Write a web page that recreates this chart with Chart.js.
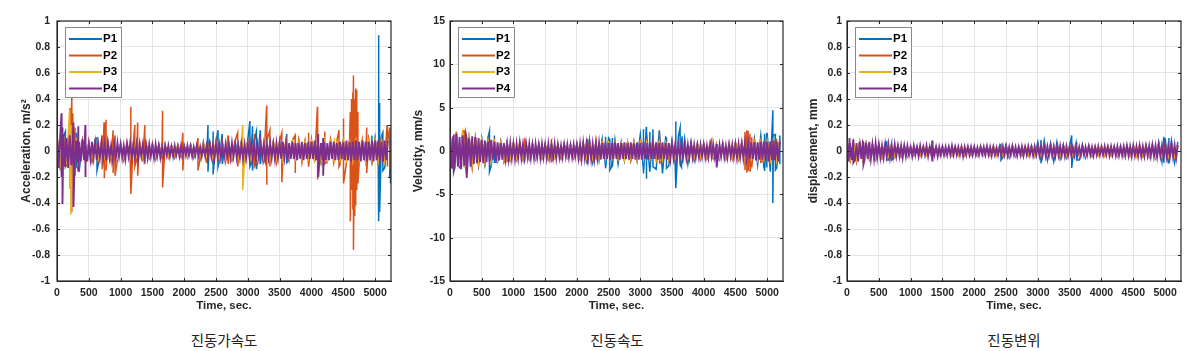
<!DOCTYPE html>
<html>
<head>
<meta charset="utf-8">
<title>진동 측정</title>
<script src="https://cdn.jsdelivr.net/npm/chart.js@4.4.1/dist/chart.umd.min.js"></script>
<style>
  html, body { margin: 0; padding: 0; background: #fff; }
  body { position: relative; width: 1200px; height: 351px; overflow: hidden; }
  canvas { position: absolute; top: 0; }
  .caption {
    position: absolute; top: 330px; width: 200px; text-align: center;
    font-family: "Noto Sans CJK KR", sans-serif; font-size: 14.5px; line-height: 20px; color: #222;
  }
</style>
</head>
<body>
<canvas id="acc" width="400" height="317" style="left:0"></canvas>
<canvas id="vel" width="400" height="317" style="left:400px"></canvas>
<canvas id="disp" width="400" height="317" style="left:800px"></canvas>
<div class="caption" style="left:124px">진동가속도</div>
<div class="caption" style="left:517px">진동속도</div>
<div class="caption" style="left:914px">진동변위</div>
<script>
const names = ["P1", "P2", "P3", "P4"];
const colors = ["#0072BD", "#D95319", "#EDB120", "#7E2F8E"];
// sampling interval (sec) of each band array below
const bandStep = [50, 50, 50, 25];
const timeMax = 5250;

const timeTicks = [0, 500, 1000, 1500, 2000, 2500, 3000, 3500, 4000, 4500, 5000];
const unitTicks = [-1, -0.8, -0.6, -0.4, -0.2, 0, 0.2, 0.4, 0.6, 0.8, 1];
const velTicks = [-15, -10, -5, 0, 5, 10, 15];

// ---- acceleration, m/s^2 ----
const accP1 = [
  0.10,-0.12,0.11,-0.10,0.12,-0.11,0.13,-0.15,0.08,-0.07,0.06,-0.07,0.09,-0.10,0.06,-0.06,0.05,-0.06,0.06,-0.05,
  0.05,-0.06,0.05,-0.05,0.06,-0.05,0.05,-0.06,0.05,-0.05,0.04,-0.05,0.05,-0.04,0.04,-0.04,0.04,-0.05,0.04,-0.04,
  0.04,-0.04,0.05,-0.05,0.05,-0.06,0.07,-0.09,0.08,-0.10,0.07,-0.08,0.06,-0.07,0.06,-0.06,0.07,-0.06,0.08,-0.09,
  0.09,-0.10,0.08,-0.09,0.07,-0.08,0.06,-0.07,0.07,-0.08,0.07,-0.06,0.06,-0.07,0.07,-0.07,0.06,-0.07,0.07,-0.06,
  0.07,-0.07,0.06,-0.08,0.07,-0.07,0.08,-0.07,0.07,-0.08,0.08,-0.07,0.07,-0.08,0.08,-0.08,0.07,-0.08,0.09,-0.10,
  0.10,-0.12,0.11,-0.13,0.10
];
const accP2 = [
  0.12,-0.14,0.13,-0.12,0.15,-0.10,0.09,-0.10,0.08,-0.09,0.07,-0.08,0.07,-0.07,0.08,-0.06,0.07,-0.08,0.06,-0.07,
  0.06,-0.07,0.07,-0.06,0.06,-0.07,0.07,-0.06,0.06,-0.05,0.06,-0.06,0.05,-0.05,0.04,-0.05,0.04,-0.04,0.05,-0.04,
  0.04,-0.05,0.05,-0.04,0.05,-0.06,0.06,-0.07,0.07,-0.06,0.08,-0.07,0.07,-0.08,0.07,-0.07,0.08,-0.07,0.07,-0.08,
  0.08,-0.07,0.09,-0.08,0.08,-0.09,0.08,-0.08,0.07,-0.09,0.08,-0.08,0.09,-0.07,0.08,-0.08,0.09,-0.09,0.08,-0.08,
  0.09,-0.08,0.08,-0.09,0.10,-0.08,0.09,-0.09,0.08,-0.10,0.09,-0.09,0.10,-0.08,0.08,-0.09,0.09,-0.08,0.08,-0.09,
  0.09,-0.08,0.10,-0.09,0.08
];
const accP3 = [
  0.10,-0.11,0.09,-0.10,0.12,-0.09,0.08,-0.07,0.06,-0.07,0.06,-0.05,0.05,-0.06,0.05,-0.05,0.06,-0.05,0.05,-0.05,
  0.05,-0.05,0.04,-0.05,0.05,-0.04,0.04,-0.05,0.04,-0.04,0.04,-0.04,0.04,-0.03,0.03,-0.04,0.03,-0.03,0.04,-0.03,
  0.03,-0.04,0.04,-0.03,0.04,-0.04,0.05,-0.04,0.05,-0.05,0.06,-0.05,0.05,-0.06,0.06,-0.05,0.05,-0.06,0.06,-0.05,
  0.06,-0.06,0.05,-0.06,0.06,-0.05,0.06,-0.06,0.07,-0.06,0.06,-0.07,0.06,-0.06,0.07,-0.06,0.06,-0.07,0.07,-0.06,
  0.07,-0.07,0.06,-0.07,0.08,-0.07,0.07,-0.08,0.07,-0.07,0.08,-0.07,0.07,-0.08,0.08,-0.07,0.07,-0.08,0.08,-0.07,
  0.08,-0.08,0.07,-0.08,0.08
];
const accP4 = [
  0.12,-0.13,0.11,-0.14,0.13,-0.12,0.10,-0.13,0.12,-0.11,0.09,-0.12,0.08,-0.09,0.07,-0.08,0.09,-0.07,0.06,-0.08,
  0.05,-0.06,0.07,-0.05,0.06,-0.07,0.05,-0.05,0.06,-0.06,0.05,-0.07,0.06,-0.05,0.04,-0.06,0.05,-0.05,0.06,-0.04,
  0.05,-0.05,0.04,-0.06,0.05,-0.04,0.06,-0.05,0.04,-0.05,0.05,-0.06,0.04,-0.04,0.05,-0.05,0.04,-0.05,0.05,-0.04,
  0.04,-0.05,0.05,-0.04,0.04,-0.05,0.03,-0.04,0.04,-0.03,0.04,-0.04,0.03,-0.04,0.04,-0.03,0.03,-0.04,0.04,-0.03,
  0.03,-0.03,0.04,-0.03,0.03,-0.04,0.03,-0.03,0.04,-0.03,0.03,-0.04,0.03,-0.03,0.04,-0.04,0.05,-0.04,0.04,-0.05,
  0.05,-0.04,0.05,-0.05,0.04,-0.05,0.05,-0.04,0.05,-0.05,0.06,-0.04,0.05,-0.05,0.04,-0.05,0.05,-0.06,0.05,-0.05,
  0.05,-0.05,0.06,-0.05,0.05,-0.06,0.05,-0.05,0.06,-0.05,0.05,-0.06,0.05,-0.05,0.06,-0.05,0.05,-0.06,0.06,-0.05,
  0.06,-0.06,0.07,-0.05,0.06,-0.07,0.06,-0.06,0.07,-0.06,0.06,-0.07,0.06,-0.06,0.07,-0.07,0.06,-0.06,0.07,-0.06,
  0.07,-0.06,0.08,-0.07,0.07,-0.07,0.06,-0.07,0.07,-0.07,0.06,-0.07,0.07,-0.06,0.07,-0.07,0.06,-0.07,0.07,-0.06,
  0.07,-0.07,0.08,-0.07,0.07,-0.08,0.07,-0.07,0.08,-0.07,0.07,-0.08,0.08,-0.07,0.07,-0.08,0.07,-0.07,0.08,-0.08,
  0.08,-0.07,0.08,-0.08,0.07,-0.08,0.08,-0.07,0.08
];
// isolated peaks: [time, top, bottom]
const accP1Spikes = [
  [132,0.15,-0.12],[304,0.14,-0.12],[629,0.10,-0.15],[2373,0.20,-0.16],[2454,0.15,-0.18],[2531,0.16,-0.12],
  [2596,0.13,-0.10],[3032,0.23,-0.12],[3073,0.19,-0.15],[3134,0.15,-0.14],[3195,0.16,-0.10],[3611,0.13,-0.09],
  [4950,0.12,-0.10],[5056,0.89,-0.54],[5071,0.37,-0.47],[5122,0.14,-0.15],[5230,0.15,-0.20],[5243,0.10,-0.25]
];
const accP2Spikes = [
  [203,0.33,-0.10],[233,0.42,-0.47],[248,0.29,-0.23],[284,0.18,-0.19],[710,0.12,-0.14],[740,0.22,-0.21],
  [771,0.24,-0.15],[882,0.16,-0.17],[913,0.12,-0.19],[1161,0.34,-0.33],[1223,0.20,-0.12],[1268,0.22,-0.19],
  [1381,0.20,-0.10],[1659,0.31,-0.28],[1978,0.14,-0.15],[2216,0.10,-0.15],[2688,0.12,-0.10],[2840,0.14,-0.12],
  [3103,0.13,-0.12],[3296,0.35,-0.26],[3347,0.16,-0.12],[3534,0.14,-0.24],[3742,0.12,-0.17],[3955,0.14,-0.12],
  [4094,0.34,-0.22],[4209,0.15,-0.10],[4432,0.16,-0.12],[4504,0.25,-0.25],[4610,0.30,-0.54],[4630,0.40,-0.30],
  [4650,0.45,-0.45],[4660,0.58,-0.76],[4680,0.40,-0.50],[4695,0.48,-0.42],[4712,0.47,-0.30],[4730,0.30,-0.25],
  [4868,0.18,-0.17],[5188,0.20,-0.12],[5233,0.18,-0.14]
];
const accP3Spikes = [[198,0.32,-0.29],[218,0.20,-0.49],[2919,0.20,-0.30],[4361,0.10,-0.09]];
const accP4Spikes = [
  [71,0.29,-0.20],[86,0.18,-0.41],[259,0.22,-0.43],[335,0.19,-0.16],[446,0.20,-0.20],[4107,0.13,-0.20],[4184,0.10,-0.19]
];

// ---- velocity, mm/s ----
const velP1 = [
  1.9,-2.1,1.8,-2.0,1.7,-1.9,1.6,-1.7,1.5,-1.6,1.4,-1.5,1.6,-1.7,1.2,-1.3,1.1,-1.1,1.0,-1.0,
  0.9,-0.9,0.8,-0.9,0.8,-0.8,0.8,-0.9,0.8,-0.8,0.7,-0.8,0.8,-0.7,0.7,-0.8,0.8,-0.7,0.7,-0.7,
  0.8,-0.8,0.9,-1.0,1.2,-1.3,1.0,-1.1,1.4,-1.6,1.5,-1.8,1.3,-1.5,1.0,-1.1,1.0,-1.0,1.1,-1.1,
  1.9,-2.2,2.2,-2.4,1.9,-2.1,2.4,-2.6,1.6,-1.7,1.2,-1.5,1.7,-1.9,1.4,-1.5,1.0,-1.1,0.9,-0.9,
  0.8,-0.8,0.7,-0.8,0.8,-0.7,0.8,-0.8,0.7,-0.8,0.9,-0.9,1.0,-1.0,1.2,-1.2,1.4,-1.6,1.8,-2.0,
  2.0,-2.4,1.8,-2.0,1.5
];
const velP2 = [
  2.0,-1.9,2.2,-1.8,2.3,-2.0,1.7,-1.9,1.5,-1.6,1.3,-1.4,1.2,-1.3,1.1,-1.1,1.0,-1.2,0.9,-1.0,
  0.9,-0.9,1.0,-0.9,0.8,-0.9,0.9,-0.8,0.8,-0.8,0.8,-0.9,0.8,-0.8,0.7,-0.8,0.8,-0.7,0.8,-0.8,
  0.8,-0.9,0.9,-0.9,1.0,-0.9,0.9,-1.0,1.0,-1.0,0.9,-1.0,1.0,-0.9,1.0,-1.0,1.0,-1.1,1.0,-1.0,
  1.1,-1.0,1.0,-1.1,1.1,-1.0,1.2,-1.1,1.0,-1.0,0.9,-1.0,0.9,-0.9,0.9,-0.9,0.8,-0.9,0.8,-0.8,
  0.8,-0.8,0.9,-0.8,0.8,-0.9,0.9,-0.9,0.9,-0.9,1.0,-0.9,1.0,-1.0,1.1,-1.0,1.1,-1.2,1.1,-1.1,
  1.2,-1.1,1.2,-1.2,1.1
];
const velP3 = [
  1.8,-1.9,1.9,-1.7,2.0,-1.8,1.5,-1.6,1.3,-1.4,1.2,-1.2,1.1,-1.2,1.0,-1.0,0.9,-1.0,0.8,-0.9,
  0.8,-0.8,0.7,-0.8,0.8,-0.7,0.7,-0.8,0.7,-0.7,0.7,-0.7,0.6,-0.7,0.7,-0.6,0.6,-0.7,0.7,-0.6,
  0.7,-0.8,0.8,-0.8,0.9,-0.8,0.8,-0.9,0.9,-0.9,0.9,-0.9,0.9,-0.9,0.9,-1.0,1.0,-0.9,1.0,-1.0,
  1.0,-1.0,1.0,-0.9,1.0,-1.0,1.0,-0.9,0.9,-0.9,0.8,-0.8,0.8,-0.8,0.7,-0.8,0.7,-0.7,0.7,-0.7,
  0.7,-0.7,0.7,-0.7,0.7,-0.7,0.7,-0.7,0.8,-0.7,0.8,-0.8,0.9,-0.9,1.0,-0.9,1.0,-1.0,1.1,-1.0,
  1.1,-1.1,1.2,-1.1,1.1
];
const velP4 = [
  1.9,-2.0,1.7,-1.9,2.0,-1.8,1.6,-2.1,1.8,-1.7,1.9,-1.6,1.5,-1.8,1.7,-1.5,1.6,-1.4,1.5,-1.3,
  1.3,-1.4,1.2,-1.3,1.1,-1.2,1.3,-1.0,1.1,-1.2,1.0,-1.1,0.9,-1.0,0.9,-0.9,0.8,-0.9,0.9,-0.8,
  0.8,-0.9,0.8,-0.8,0.9,-0.8,0.7,-0.8,0.8,-0.7,0.8,-0.8,0.7,-0.8,0.8,-0.7,0.7,-0.8,0.8,-0.7,
  0.7,-0.8,0.8,-0.7,0.7,-0.7,0.8,-0.8,0.7,-0.7,0.6,-0.7,0.7,-0.6,0.7,-0.7,0.6,-0.7,0.7,-0.6,
  0.7,-0.8,0.8,-0.9,0.9,-0.8,0.8,-0.9,0.9,-0.9,0.8,-0.9,0.9,-0.8,0.9,-1.0,0.9,-0.9,1.0,-0.9,
  0.9,-1.0,0.9,-0.9,1.0,-0.9,0.9,-1.0,0.9,-0.9,1.0,-0.9,0.9,-1.0,1.0,-0.9,0.9,-1.0,1.0,-1.0,
  0.9,-1.0,1.0,-0.9,0.9,-1.0,1.0,-0.9,0.9,-0.9,1.0,-1.0,0.9,-0.9,1.0,-0.9,0.9,-1.0,0.9,-0.9,
  0.8,-0.8,0.7,-0.8,0.7,-0.7,0.8,-0.7,0.7,-0.8,0.7,-0.7,0.8,-0.7,0.7,-0.7,0.6,-0.7,0.7,-0.6,
  0.7,-0.7,0.6,-0.7,0.7,-0.6,0.7,-0.7,0.6,-0.7,0.7,-0.6,0.7,-0.7,0.6,-0.7,0.7,-0.6,0.7,-0.7,
  0.7,-0.8,0.8,-0.7,0.8,-0.8,0.9,-0.8,0.9,-0.9,1.0,-0.9,1.0,-1.1,1.0,-1.0,1.1,-1.0,1.1,-1.1,
  1.1,-1.2,1.1,-1.0,1.2,-1.1,1.1,-1.2,1.1
];
const velP1Spikes = [
  [622,2.3,-2.4],[700,1.8,-1.3],[2168,1.4,-1.5],[2453,1.65,-2.0],[2520,1.3,-2.2],[2560,1.5,-1.8],
  [3050,2.5,-2.6],[3096,2.8,-3.2],[3150,2.2,-2.4],[3200,2.5,-1.8],[3413,1.5,-2.0],[3560,3.4,-4.3],
  [3628,2.7,-1.6],[3660,1.7,-1.4],[4960,2.0,-2.3],[4995,2.1,-1.9],[5090,4.7,-6.0],[5130,1.9,-2.2],[5200,1.8,-1.5]
];
const velP2Spikes = [
  [225,2.3,-1.6],[900,1.0,-1.2],[1176,1.5,-1.3],[1600,1.3,-1.2],[2300,1.2,-0.9],[3305,2.0,-1.4],
  [4125,1.3,-0.8],[4650,2.2,-2.2],[4680,2.4,-2.5],[4700,2.3,-2.3],[4730,2.0,-2.4],[4757,1.6,-1.9],
  [4900,1.1,-1.3],[5150,1.4,-1.3]
];
const velP3Spikes = [[215,1.2,-1.8]];
const velP4Spikes = [[60,1.9,-2.3],[263,1.4,-3.1],[4204,0.8,-1.9]];

// ---- displacement, mm ----
const dispP1 = [
  0.07,-0.07,0.06,-0.08,0.07,-0.07,0.06,-0.06,0.05,-0.06,0.05,-0.05,0.06,-0.07,0.05,-0.05,0.04,-0.04,0.04,-0.04,
  0.03,-0.03,0.03,-0.03,0.03,-0.03,0.03,-0.03,0.03,-0.03,0.03,-0.03,0.03,-0.03,0.03,-0.03,0.03,-0.03,0.03,-0.03,
  0.03,-0.03,0.03,-0.03,0.03,-0.03,0.03,-0.03,0.04,-0.05,0.05,-0.05,0.04,-0.04,0.03,-0.03,0.03,-0.03,0.04,-0.04,
  0.07,-0.08,0.08,-0.07,0.06,-0.08,0.07,-0.06,0.05,-0.05,0.04,-0.05,0.06,-0.07,0.05,-0.05,0.04,-0.04,0.03,-0.03,
  0.03,-0.03,0.03,-0.03,0.03,-0.03,0.03,-0.03,0.03,-0.03,0.03,-0.03,0.04,-0.04,0.04,-0.04,0.05,-0.05,0.07,-0.08,
  0.10,-0.09,0.08,-0.09,0.07
];
const dispP2 = [
  0.08,-0.07,0.07,-0.08,0.07,-0.07,0.06,-0.06,0.05,-0.05,0.05,-0.05,0.04,-0.04,0.04,-0.04,0.04,-0.04,0.04,-0.04,
  0.035,-0.03,0.03,-0.035,0.035,-0.03,0.03,-0.035,0.03,-0.03,0.035,-0.03,0.03,-0.035,0.035,-0.03,0.03,-0.035,0.03,-0.03,
  0.03,-0.035,0.035,-0.03,0.03,-0.035,0.035,-0.035,0.03,-0.035,0.035,-0.03,0.035,-0.035,0.03,-0.035,0.035,-0.035,0.035,-0.03,
  0.04,-0.035,0.035,-0.04,0.04,-0.035,0.035,-0.04,0.04,-0.035,0.035,-0.035,0.04,-0.035,0.035,-0.04,0.035,-0.035,0.035,-0.035,
  0.035,-0.035,0.04,-0.035,0.035,-0.04,0.04,-0.04,0.04,-0.035,0.04,-0.04,0.045,-0.04,0.04,-0.045,0.045,-0.05,0.045,-0.045,
  0.05,-0.045,0.045,-0.05,0.05
];
const dispP3 = [
  0.07,-0.07,0.06,-0.07,0.07,-0.06,0.05,-0.06,0.05,-0.05,0.04,-0.05,0.04,-0.04,0.04,-0.04,0.035,-0.04,0.035,-0.035,
  0.03,-0.03,0.03,-0.03,0.03,-0.03,0.03,-0.03,0.03,-0.03,0.03,-0.03,0.03,-0.03,0.03,-0.03,0.03,-0.03,0.03,-0.03,
  0.03,-0.03,0.03,-0.035,0.03,-0.03,0.035,-0.03,0.03,-0.03,0.03,-0.035,0.03,-0.03,0.035,-0.03,0.03,-0.03,0.03,-0.035,
  0.035,-0.035,0.035,-0.03,0.035,-0.035,0.035,-0.035,0.03,-0.035,0.035,-0.03,0.035,-0.035,0.03,-0.035,0.035,-0.03,0.035,-0.035,
  0.035,-0.035,0.035,-0.035,0.035,-0.035,0.04,-0.035,0.035,-0.04,0.04,-0.04,0.04,-0.04,0.045,-0.04,0.04,-0.045,0.045,-0.04,
  0.045,-0.045,0.04,-0.045,0.045
];
const dispP4 = [
  0.07,-0.08,0.06,-0.07,0.08,-0.07,0.06,-0.08,0.07,-0.06,0.07,-0.07,0.06,-0.06,0.07,-0.06,0.05,-0.06,0.06,-0.05,
  0.05,-0.05,0.04,-0.05,0.05,-0.04,0.05,-0.05,0.04,-0.04,0.05,-0.04,0.04,-0.04,0.04,-0.05,0.04,-0.04,0.04,-0.03,
  0.03,-0.04,0.04,-0.03,0.03,-0.04,0.04,-0.03,0.03,-0.03,0.04,-0.04,0.03,-0.03,0.04,-0.03,0.03,-0.04,0.03,-0.03,
  0.03,-0.03,0.03,-0.03,0.03,-0.03,0.04,-0.03,0.03,-0.03,0.03,-0.03,0.03,-0.04,0.03,-0.03,0.03,-0.03,0.03,-0.03,
  0.03,-0.03,0.025,-0.03,0.03,-0.025,0.03,-0.03,0.035,-0.03,0.03,-0.035,0.03,-0.03,0.025,-0.03,0.03,-0.03,0.035,-0.03,
  0.03,-0.035,0.03,-0.03,0.035,-0.03,0.03,-0.035,0.03,-0.03,0.035,-0.035,0.03,-0.03,0.035,-0.03,0.03,-0.035,0.035,-0.03,
  0.035,-0.035,0.04,-0.035,0.035,-0.04,0.035,-0.035,0.04,-0.035,0.035,-0.04,0.035,-0.035,0.04,-0.035,0.035,-0.04,0.035,-0.035,
  0.035,-0.035,0.03,-0.035,0.035,-0.03,0.03,-0.035,0.035,-0.03,0.03,-0.03,0.035,-0.03,0.03,-0.035,0.03,-0.03,0.035,-0.03,
  0.03,-0.03,0.035,-0.03,0.03,-0.035,0.035,-0.03,0.03,-0.035,0.035,-0.035,0.03,-0.035,0.035,-0.035,0.04,-0.035,0.035,-0.04,
  0.04,-0.035,0.035,-0.04,0.04,-0.04,0.035,-0.04,0.04,-0.035,0.04,-0.04,0.045,-0.04,0.04,-0.045,0.045,-0.04,0.04,-0.045,
  0.045,-0.045,0.04,-0.045,0.05,-0.045,0.045,-0.05,0.045
];
const dispP1Spikes = [
  [622,0.07,-0.07],[700,0.06,-0.07],[2420,0.05,-0.07],[3050,0.085,-0.095],[3532,0.12,-0.13],
  [3610,0.07,-0.07],[4980,0.11,-0.09],[5060,0.10,-0.09]
];
const dispP2Spikes = [];
const dispP3Spikes = [];
const dispP4Spikes = [[40,0.10,-0.05],[100,0.09,-0.09],[260,0.06,-0.10],[1340,0.08,-0.08]];

const axisColor = "#262626";
const gridColor = "#e4e4e4";
const fontFamily = "'Liberation Sans', Arial, sans-serif";

function buildSeries(band, step, spikes) {
  const pts = band.map((v, i) => ({ x: i * step, y: v }));
  spikes.forEach(([t, hi, lo]) => pts.push({ x: t, y: hi }, { x: t, y: lo }));
  return pts.sort((a, b) => a.x - b.x);
}

// box, inward tick marks and legend like the MATLAB figure
const matlabFrame = {
  id: "matlabFrame",
  afterDraw(chart) {
    const { ctx, chartArea: a, scales: { x, y } } = chart;
    ctx.save();
    ctx.strokeStyle = axisColor;
    ctx.lineWidth = 1;
    ctx.beginPath();
    x.ticks.forEach((t) => {
      const px = Math.round(x.getPixelForValue(t.value)) + 0.5;
      ctx.moveTo(px, a.top); ctx.lineTo(px, a.top + 3);
      ctx.moveTo(px, a.bottom); ctx.lineTo(px, a.bottom - 3);
    });
    y.ticks.forEach((t) => {
      const py = Math.round(y.getPixelForValue(t.value)) + 0.5;
      ctx.moveTo(a.left, py); ctx.lineTo(a.left + 3, py);
      ctx.moveTo(a.right, py); ctx.lineTo(a.right - 3, py);
    });
    ctx.stroke();
    ctx.lineWidth = 1.2;
    ctx.strokeRect(a.left, a.top, a.right - a.left, a.bottom - a.top);

    const bx = Math.round(a.left) + 8, by = Math.round(a.top) + 6;
    ctx.fillStyle = "#fff";
    ctx.fillRect(bx, by, 56, 70);
    ctx.strokeStyle = "#8a8a8a";
    ctx.lineWidth = 1;
    ctx.strokeRect(bx + 0.5, by + 0.5, 56, 70);
    ctx.font = "bold 11.5px " + fontFamily;
    ctx.textBaseline = "middle";
    chart.data.datasets.forEach((ds, i) => {
      const ly = by + 12 + i * 16.5;
      ctx.strokeStyle = ds.borderColor;
      ctx.lineWidth = 2;
      ctx.beginPath();
      ctx.moveTo(bx + 4, ly);
      ctx.lineTo(bx + 37, ly);
      ctx.stroke();
      ctx.fillStyle = "#000";
      ctx.fillText(ds.label, bx + 38, ly);
    });
    ctx.restore();
  },
};

function makeChart(id, cfg) {
  return new Chart(document.getElementById(id), {
    type: "line",
    data: {
      datasets: names.map((n, i) => ({
        label: n,
        data: buildSeries(cfg.bands[i], bandStep[i], cfg.spikes[i]),
        borderColor: colors[i],
        borderWidth: i === 3 ? 1.9 : 1.5,
        pointRadius: 0,
        tension: 0,
        order: 3 - i,
      })),
    },
    options: {
      responsive: false,
      animation: false,
      events: [],
      layout: { padding: { top: 21, right: cfg.padRight, bottom: 0, left: 0 } },
      plugins: { legend: { display: false }, tooltip: { enabled: false } },
      scales: {
        x: {
          type: "linear",
          min: 0,
          max: timeMax,
          afterBuildTicks: (s) => { s.ticks = timeTicks.map((v) => ({ value: v })); },
          afterFit: (s) => { s.height = 36; },
          grid: { color: gridColor, drawTicks: false },
          border: { color: axisColor, width: 1 },
          ticks: {
            autoSkip: false, maxRotation: 0, minRotation: 0, padding: 6,
            color: axisColor, font: { family: fontFamily, size: 10.5, weight: "bold" },
            callback: (v) => String(v),
          },
          title: {
            display: true, text: "Time, sec.", color: axisColor,
            font: { family: fontFamily, size: 11.5, weight: "bold" },
            padding: { top: 0, bottom: 4 },
          },
        },
        y: {
          type: "linear",
          min: cfg.yTicks[0],
          max: cfg.yTicks[cfg.yTicks.length - 1],
          afterBuildTicks: (s) => { s.ticks = cfg.yTicks.map((v) => ({ value: v })); },
          afterFit: (s) => { s.width = cfg.yWidth; },
          grid: { color: gridColor, drawTicks: false },
          border: { color: axisColor, width: 1 },
          ticks: {
            autoSkip: false, padding: cfg.tickPad,
            color: axisColor, font: { family: fontFamily, size: 10.5, weight: "bold" },
            callback: (v) => String(v),
          },
          title: {
            display: true, text: cfg.yTitle, color: axisColor,
            font: { family: fontFamily, size: 12, weight: "bold" },
            padding: { top: cfg.titlePad, bottom: 0 },
          },
        },
      },
    },
    plugins: [matlabFrame],
  });
}

makeChart("acc", {
  yTitle: "Acceleration, m/s²", yTicks: unitTicks,
  bands: [accP1, accP2, accP3, accP4],
  spikes: [accP1Spikes, accP2Spikes, accP3Spikes, accP4Spikes],
  yWidth: 57, padRight: 9, tickPad: 7, titlePad: 19,
});
makeChart("vel", {
  yTitle: "Velocity, mm/s", yTicks: velTicks,
  bands: [velP1, velP2, velP3, velP4],
  spikes: [velP1Spikes, velP2Spikes, velP3Spikes, velP4Spikes],
  yWidth: 50, padRight: 17, tickPad: 5, titlePad: 11,
});
makeChart("disp", {
  yTitle: "displacement, mm", yTicks: unitTicks,
  bands: [dispP1, dispP2, dispP3, dispP4],
  spikes: [dispP1Spikes, dispP2Spikes, dispP3Spikes, dispP4Spikes],
  yWidth: 47, padRight: 19, tickPad: 5, titlePad: 6,
});
</script>
</body>
</html>
